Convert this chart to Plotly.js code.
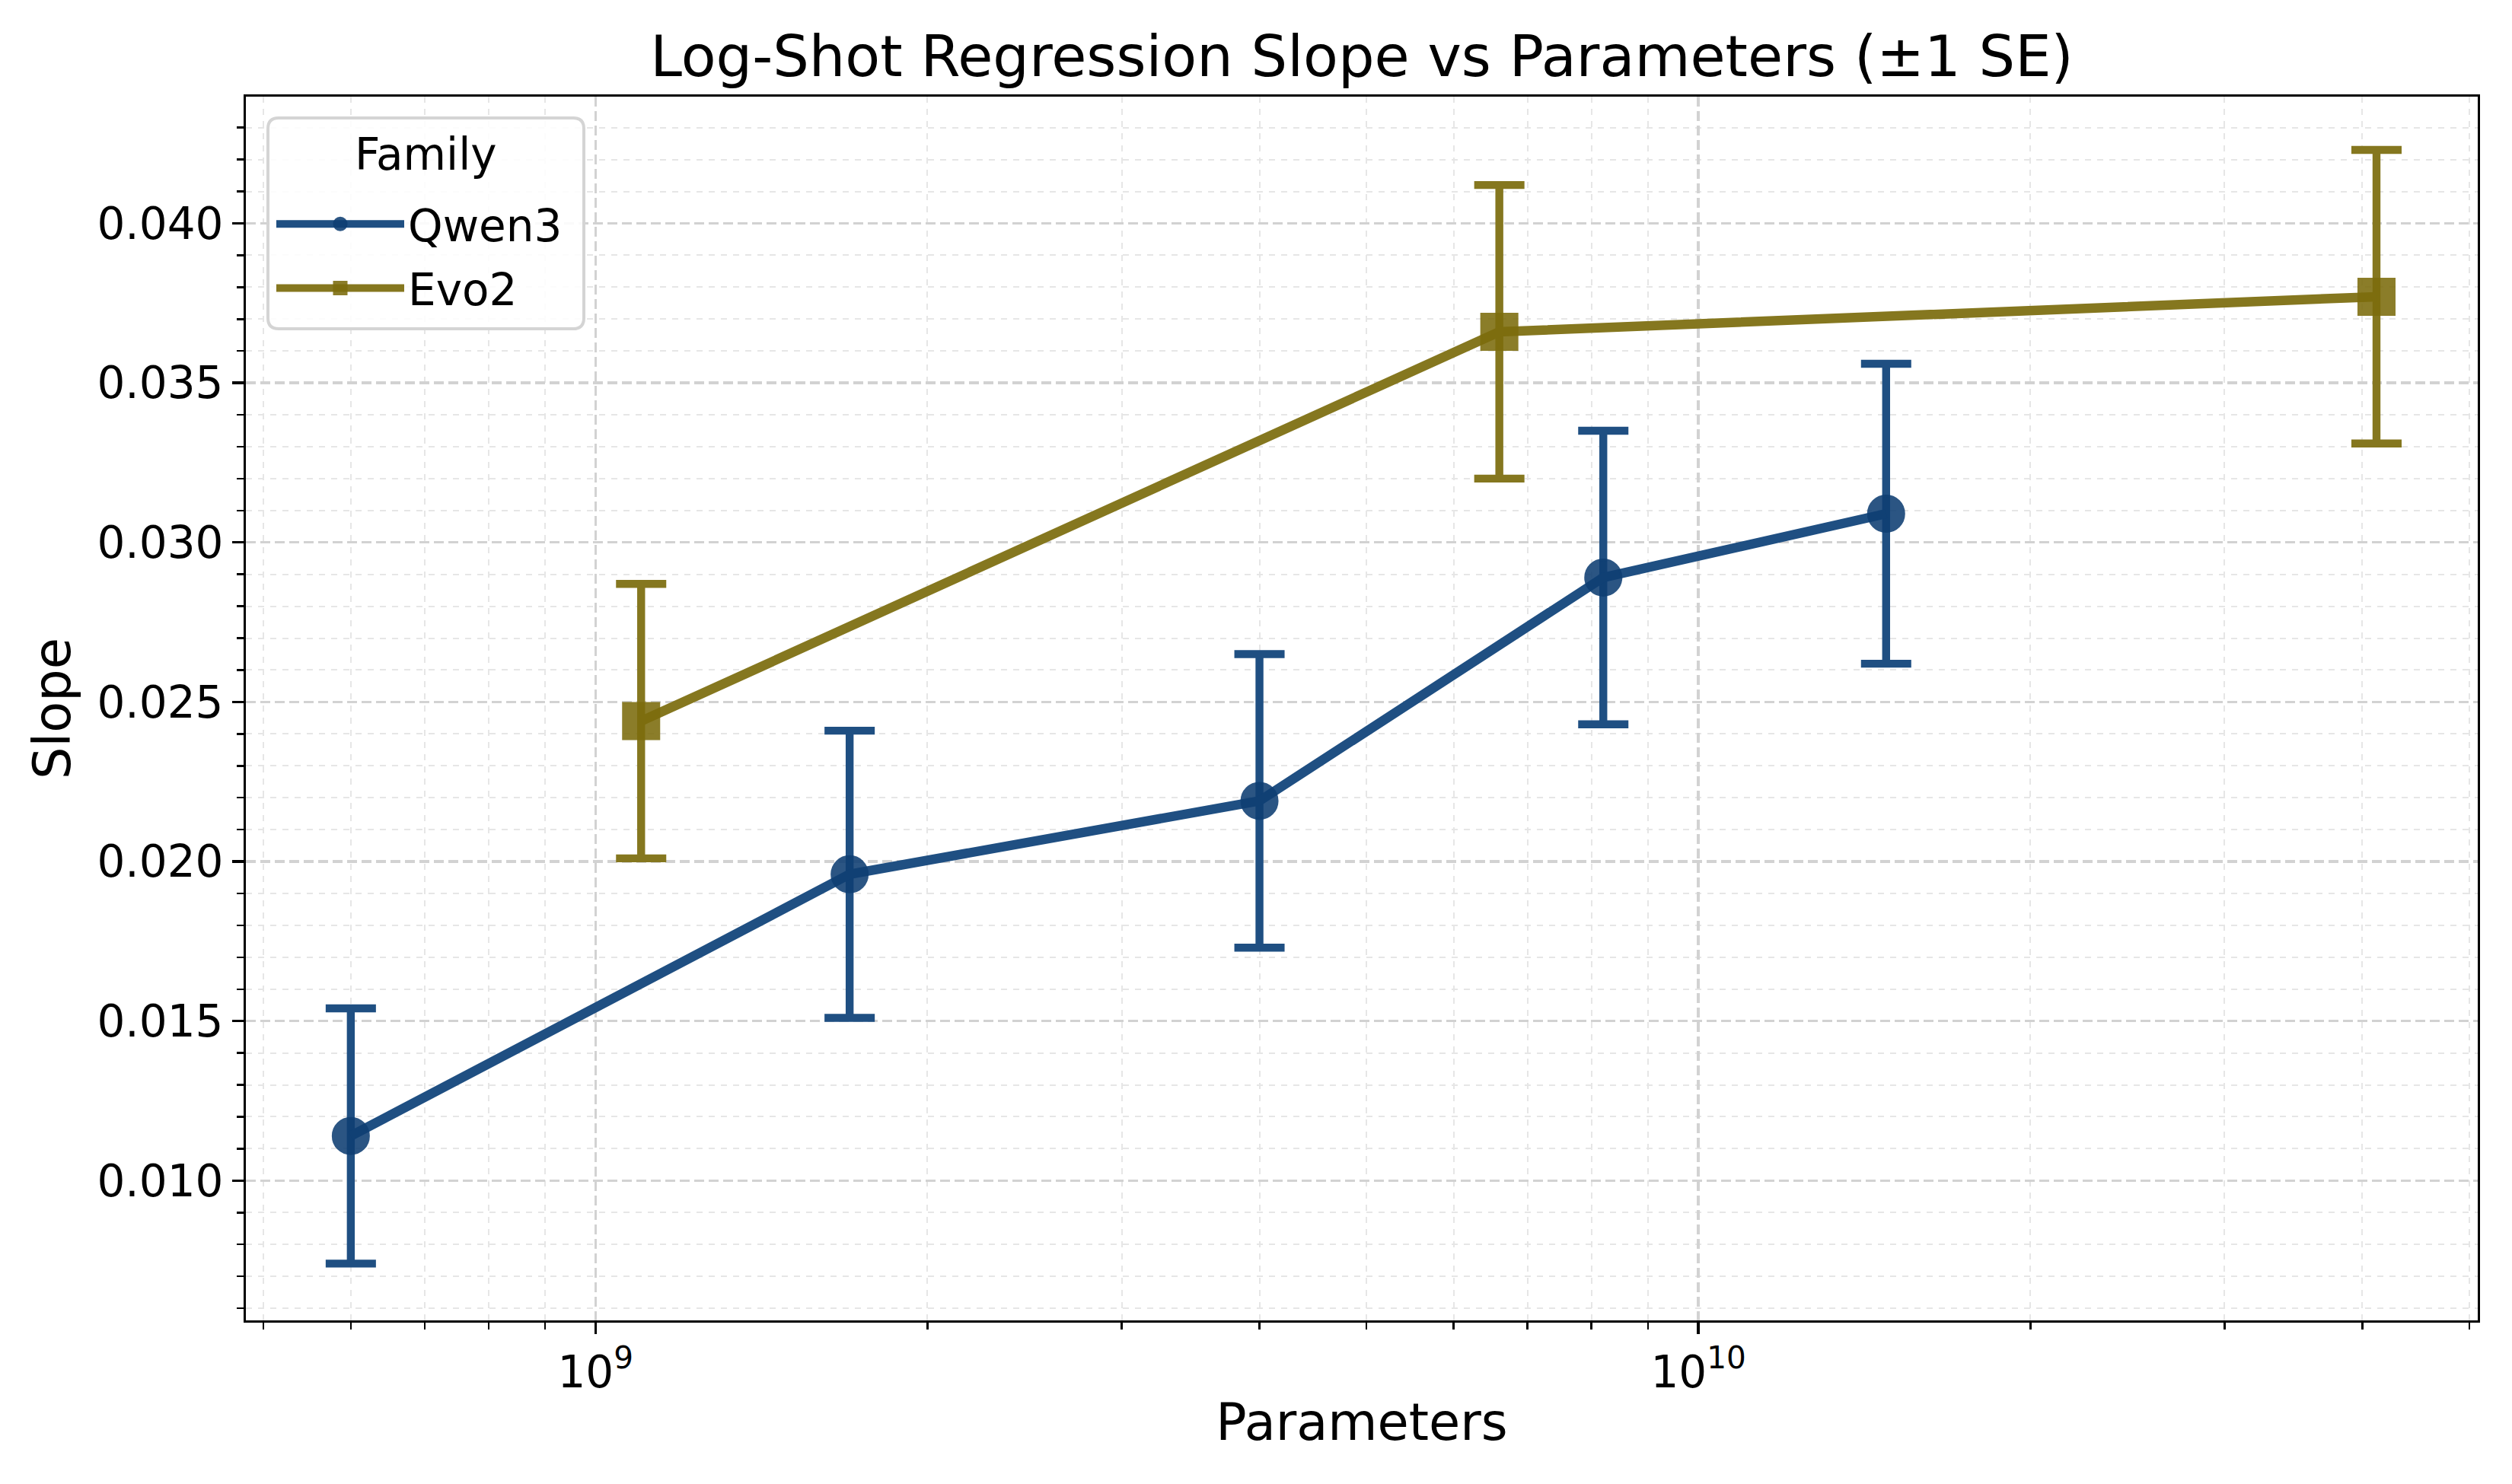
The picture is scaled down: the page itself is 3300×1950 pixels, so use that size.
<!DOCTYPE html>
<html>
<head>
<meta charset="utf-8">
<script src="https://cdn.plot.ly/plotly-3.0.1.min.js"></script>
<style>html,body{margin:0;padding:0;background:#fff;}#chart{width:3300px;height:1950px;}</style>
</head>
<body>
<div id="chart"></div>
<script>
// ---- data ----
const qwenParams = [0.6e9, 1.7e9, 4.0e9, 8.2e9, 14.8e9];
const qwenSlope  = [0.0114, 0.0196, 0.0219, 0.0289, 0.0309];
const qwenSE     = [0.0040, 0.0045, 0.0046, 0.0046, 0.0047];

const evoParams = [1.1e9, 6.6e9, 4.12e10];
const evoSlope  = [0.0244, 0.0366, 0.0377];
const evoSE     = [0.0043, 0.0046, 0.0046];

const seriesNames = ['Qwen3', 'Evo2'];
const legendTitle = 'Family';
const xTickVals = [1e9, 1e10];
const xTickText = ['10<sup>9</sup>', '10<sup>10</sup>'];
const xMinorVals = [5e8, 6e8, 7e8, 8e8, 9e8, 2e9, 3e9, 4e9, 5e9, 6e9, 7e9, 8e9, 9e9, 2e10, 3e10, 4e10, 5e10];

// ---- styling ----
const FONT = 'DejaVu Sans, Liberation Sans, sans-serif';
const qwenColor = 'rgb(31,79,130)';
const qwenMarker = 'rgb(14,62,115)';
const evoColor = 'rgb(133,119,31)';
const evoMarker = 'rgb(124,108,12)';

const W = 3300, H = 1950;
const M = {l: 323, r: 45, t: 127, b: 215};
const PW = W - M.l - M.r, PH = H - M.t - M.b;
const PX = p => (p - M.l) / PW, PY = p => 1 - (p - M.t) / PH;

function trace(name, x, y, se, col, mcol, sym) {
  return {
    type: 'scatter', mode: 'lines+markers', name: name,
    x: x, y: y, legendgroup: name,
    error_y: {type: 'data', array: se, visible: true, color: col, thickness: 10.4, width: 33},
    line: {color: col, width: 12.5},
    marker: {symbol: sym, size: 47, color: mcol, opacity: 0.88, line: {color: mcol, width: 3}}
  };
}

const data = [
  trace(seriesNames[0], qwenParams, qwenSlope, qwenSE, qwenColor, qwenMarker, 'circle'),
  trace(seriesNames[1], evoParams, evoSlope, evoSE, evoColor, evoMarker, 'square')
];

// rounded legend frame in paper coordinates
function roundRect(px0, py0, px1, py1, r) {
  const rx = r / PW, ry = r / PH;
  const x0 = PX(px0), x1 = PX(px1), y0 = PY(py0), y1 = PY(py1);
  return `M${x0 + rx},${y0} L${x1 - rx},${y0} Q${x1},${y0} ${x1},${y0 - ry} ` +
         `L${x1},${y1 + ry} Q${x1},${y1} ${x1 - rx},${y1} L${x0 + rx},${y1} ` +
         `Q${x0},${y1} ${x0},${y1 + ry} L${x0},${y0 - ry} Q${x0},${y0} ${x0 + rx},${y0} Z`;
}

const majorGrid = {showgrid: true, gridcolor: '#d2d2d2', gridwidth: 3.3, griddash: '13px,6px'};
const minorCfg = {ticks: 'outside', ticklen: 8.3, tickwidth: 2.5, tickcolor: '#000',
                  showgrid: true, gridcolor: '#e6e6e6', gridwidth: 2, griddash: '8px,8px'};

const layout = {
  width: W, height: H,
  margin: M,
  paper_bgcolor: '#fff', plot_bgcolor: '#fff',
  font: {family: FONT, size: 58, color: '#000'},
  title: {text: 'Log-Shot Regression Slope vs Parameters (±1 SE)',
          font: {family: FONT, size: 75, color: '#000'},
          xref: 'paper', x: 0.5, xanchor: 'center',
          yref: 'paper', y: 1, yanchor: 'bottom', pad: {b: 27}},
  xaxis: Object.assign({
    type: 'log', range: [8.683, 10.7067],
    tickmode: 'array', tickvals: xTickVals, ticktext: xTickText,
    ticks: 'outside', ticklen: 14.6, tickwidth: 3.3, tickcolor: '#000',
    showline: true, linecolor: '#000', linewidth: 3.3, mirror: true,
    zeroline: false,
    tickfont: {family: FONT, size: 58, color: '#000'},
    title: {text: 'Parameters', font: {family: FONT, size: 67, color: '#000'}, standoff: 10},
    minor: Object.assign({tickmode: 'array', tickvals: xMinorVals}, minorCfg)
  }, majorGrid),
  yaxis: Object.assign({
    range: [0.00562, 0.04397],
    tick0: 0, dtick: 0.005, tickformat: '.3f',
    ticks: 'outside', ticklen: 14.6, tickwidth: 3.3, tickcolor: '#000',
    showline: true, linecolor: '#000', linewidth: 3.3, mirror: true,
    zeroline: false,
    tickfont: {family: FONT, size: 58, color: '#000'},
    title: {text: 'Slope', font: {family: FONT, size: 67, color: '#000'}, standoff: 14},
    minor: Object.assign({tick0: 0, dtick: 0.001}, minorCfg)
  }, majorGrid),
  showlegend: true,
  legend: {
    x: PX(358), y: PY(250), xanchor: 'left', yanchor: 'top',
    bgcolor: 'rgba(0,0,0,0)', borderwidth: 0,
    font: {family: FONT, size: 58, color: '#000'},
    itemwidth: 168, tracegroupgap: 6, itemsizing: 'trace'
  },
  annotations: [{
    text: legendTitle, xref: 'paper', yref: 'paper', x: PX(559.5), y: PY(203),
    xanchor: 'center', yanchor: 'middle', showarrow: false,
    font: {family: FONT, size: 58, color: '#000'}
  }],
  shapes: [{
    type: 'path', xref: 'paper', yref: 'paper', layer: 'above',
    path: roundRect(352, 155, 767, 432, 14),
    fillcolor: 'rgba(255,255,255,0.88)', line: {color: '#d4d4d4', width: 4}
  }]
};

Plotly.newPlot('chart', data, layout, {displayModeBar: false, staticPlot: true});
</script>
</body>
</html>
